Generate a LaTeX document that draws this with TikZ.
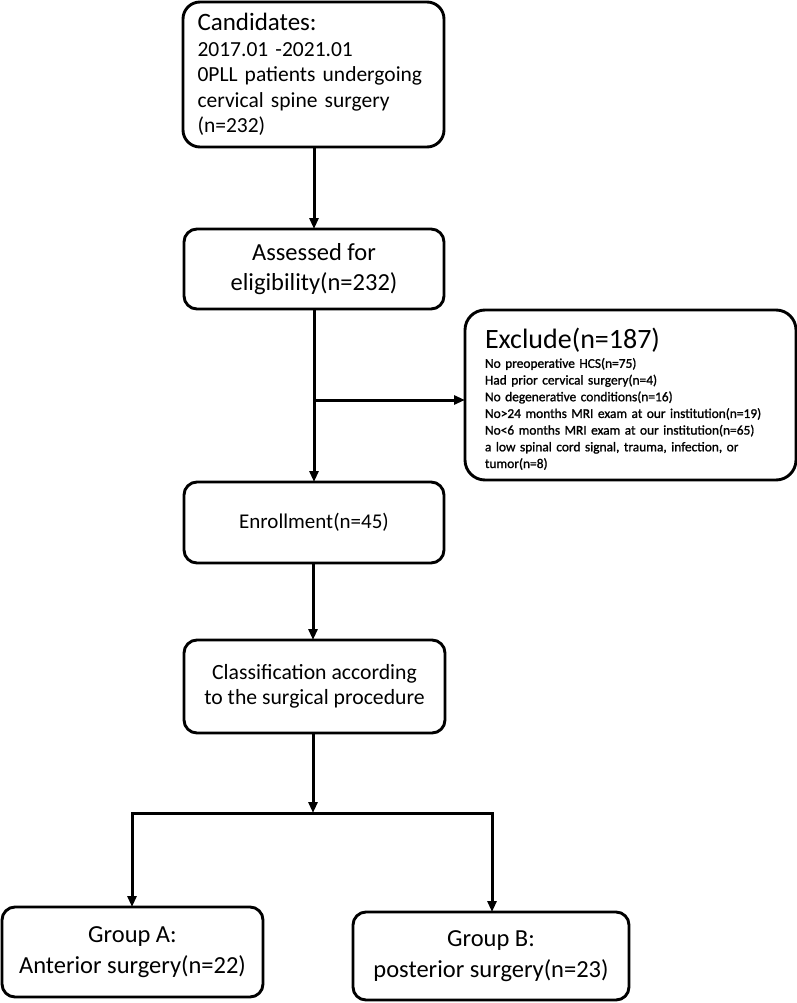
\documentclass[tikz,border=0pt]{standalone}
\usepackage{fontspec}
\setmainfont{Carlito}
\newfontfamily\listfont[FakeBold=1.2]{Carlito}
\usetikzlibrary{arrows.meta}
\begin{document}
\begin{tikzpicture}[x=1pt,y=-1pt,
  box/.style={draw=black,line width=2.9pt,fill=white,rounded corners=13pt,inner sep=0pt,outer sep=0pt},
  conn/.style={line width=3pt,-{Triangle[length=11pt,width=9pt]}},
  plain/.style={line width=3pt}]
\useasboundingbox (0,0) rectangle (797,1003);
% Candidates
\node[box,rounded corners=17pt,minimum width=261pt,minimum height=145pt,text width=232pt,align=left,
  font=\fontsize{21.5}{25.5}\selectfont] (cand) at (313.5,74.5)
  {{\fontsize{25}{25.5}\selectfont Candidates:}\\2017.01 -2021.01\\0PLL patients undergoing\\cervical spine surgery\\(n=232)};
% Assessed
\node[box,minimum width=260pt,minimum height=80pt,align=center,
  font=\fontsize{24.5}{30}\selectfont] (assess) at (314,269)
  {Assessed for\\eligibility(n=232)};
% Exclude
\node[box,rounded corners=20pt,minimum width=331pt,minimum height=170pt,text width=291pt,align=left,
  font=\fontsize{13.4}{16.7}\selectfont] (excl) at (630.5,395)
  {{\fontsize{28}{30}\selectfont\rule{0pt}{28pt}Exclude(n=187)}\\[3pt]
   \listfont No preoperative HCS(n=75)\\
   Had prior cervical surgery(n=4)\\
   No degenerative conditions(n=16)\\
   No>24 months MRI exam at our institution(n=19)\\
   No<6 months MRI exam at our institution(n=65)\\
   a low spinal cord signal, trauma, infection, or\\
   tumor(n=8)};
% Enrollment
\node[box,minimum width=260pt,minimum height=81pt,align=center,
  font=\fontsize{21}{26}\selectfont] (enrol) at (314,522.5)
  {Enrollment(n=45)};
% Classification
\node[box,minimum width=261pt,minimum height=93pt,align=center,
  font=\fontsize{21.7}{25.5}\selectfont] (class) at (314.5,686.5)
  {Classification according\\to the surgical procedure};
% Groups
\node[box,minimum width=261pt,minimum height=90pt,align=center,
  font=\fontsize{24.5}{31}\selectfont] (ga) at (132.5,952)
  {Group A:\\Anterior surgery(n=22)};
\node[box,minimum width=276pt,minimum height=88pt,align=center,
  font=\fontsize{24.5}{31}\selectfont] (gb) at (491,956)
  {Group B:\\posterior surgery(n=23)};
% junctions
\coordinate (branch) at (314,400);
\coordinate (split) at (313,813);
\coordinate (sl) at (132,813);
\coordinate (sr) at (492,813);
% connectors
\draw[conn] (cand.south -| 314,0) -- (assess.north -| 314,0);
\draw[conn] (assess.south -| 314,0) -- (enrol.north -| 314,0);
\draw[conn] (branch) -- (branch -| excl.west);
\draw[conn] (enrol.south -| 313,0) -- (class.north -| 313,0);
\draw[conn] (class.south -| split) -- (split);
\draw[plain,line cap=rect] (sl) -- (sr);
\draw[conn] (sl) -- (sl |- ga.north);
\draw[conn] (sr) -- (sr |- gb.north);
\end{tikzpicture}
\end{document}
